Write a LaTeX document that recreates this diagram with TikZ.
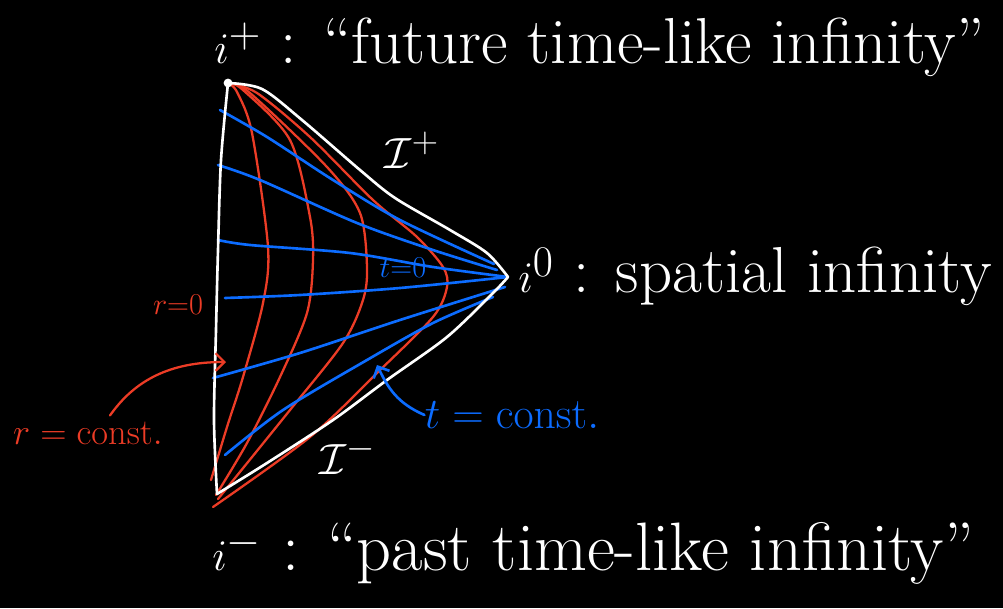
\documentclass[tikz,border=0pt]{standalone}
\usepackage{amsmath,amssymb}
\usetikzlibrary{arrows.meta,positioning,calc}
\definecolor{myred}{RGB}{236,60,38}
\definecolor{myblue}{RGB}{12,108,255}

\begin{document}
\begin{tikzpicture}[x=0.02cm,y=-0.02cm,
    bdry/.style={white,line width=1.5pt,line cap=round,line join=round},
    rline/.style={myred,line width=1.3pt,line cap=round},
    tline/.style={myblue,line width=1.5pt,line cap=round},
    lbl/.style={white,inner sep=0pt,font=\fontsize{37}{40}\selectfont},
    rlbl/.style={myred,inner sep=0pt,font=\fontsize{22}{26}\selectfont},
    tlbl/.style={myblue,inner sep=0pt,font=\fontsize{25}{28}\selectfont}]
  \fill[black] (0,0) rectangle (1003,608);
  % corners of the diagram
  \coordinate (ip) at (228,83);
  \coordinate (io) at (508,277);
  \coordinate (im) at (217,494);
  % r = const curves
  \draw[rline] plot[smooth] coordinates {(ip) (237,92) (252,133) (268,247) (263,303) (243,377) (227,427) (211,480)};
  \draw[rline] plot[smooth] coordinates {(ip) (243,90) (290,140) (310,217) (313,260) (307,313) (280,377) (247,443) (216,495)};
  \draw[rline] plot[smooth] coordinates {(ip) (250,93) (327,167) (360,213) (367,267) (363,300) (343,343) (290,410) (218,499)};
  \draw[rline] plot[smooth] coordinates {(ip) (257,93) (310,137) (373,200) (417,237) (443,267) (447,287) (433,317) (377,373) (310,437) (213,507)};
  % t = const curves
  \draw[tline] plot[smooth] coordinates {(220,110) (267,137) (333,180) (400,220) (494,264)};
  \draw[tline] plot[smooth] coordinates {(218,165) (260,180) (357,223) (433,250) (497,270)};
  \draw[tline] plot[smooth] coordinates {(218,240) (250,245) (350,253) (433,267) (io)};
  \draw[tline] plot[smooth] coordinates {(225,298) (300,295) (400,288) (io)};
  \draw[tline] plot[smooth] coordinates {(213,378) (300,353) (400,320) (505,287)};
  \draw[tline] plot[smooth] coordinates {(225,455) (283,410) (367,360) (433,323) (493,297)};
  % boundary
  \draw[bdry] plot[smooth] coordinates {(ip) (221,160) (218,250) (216,330) (214,420) (im)};
  \draw[bdry] plot[smooth] coordinates {(ip) (262,89) (302,120) (360,170) (395,198) (450,230) (487,253) (io)};
  \draw[bdry] plot[smooth] coordinates {(io) (493,293) (447,337) (387,380) (333,420) (267,463) (im)};
  \fill[white] (ip) circle (2.5pt);
  % labels
  \node[lbl,anchor=west] (ipl) at (214,47) {$i^+$ : ``future time-like infinity''};
  \node[lbl,anchor=west] (iol) at (518,276) {$i^0$ : spatial infinity};
  \node[lbl,anchor=west,font=\fontsize{39}{42}\selectfont] (iml) at (212,553) {$i^-$ : ``past time-like infinity''};
  \node[lbl,font=\fontsize{30}{34}\selectfont] (scp) at (412,150) {$\mathcal{I}^+$};
  \node[lbl,font=\fontsize{30}{34}\selectfont] (scm) at (348,456) {$\mathcal{I}^-$};
  \node[rlbl,font=\fontsize{19}{22}\selectfont] (rz) at (178,305) {$r{=}0$};
  \node[rlbl] (rc) at (88,433) {$r=\mathrm{const.}$};
  \node[tlbl,font=\fontsize{19}{22}\selectfont] (tz) at (403,268) {$t{=}0$};
  \node[tlbl] (tc) at (512,415) {$t=\mathrm{const.}$};
  % pointers
  \coordinate (rtip) at (226,362);
  \coordinate (ttip) at (377,365);
  \draw[rline,-{Straight Barb[length=5pt]}] ($(rc.north)+(22,-6)$) .. controls (135,380) and (170,362) .. (rtip);
  \draw[tline,-{Straight Barb[length=5pt]}] (tc.west) .. controls (397,403) and (388,388) .. (ttip);
\end{tikzpicture}
\end{document}
